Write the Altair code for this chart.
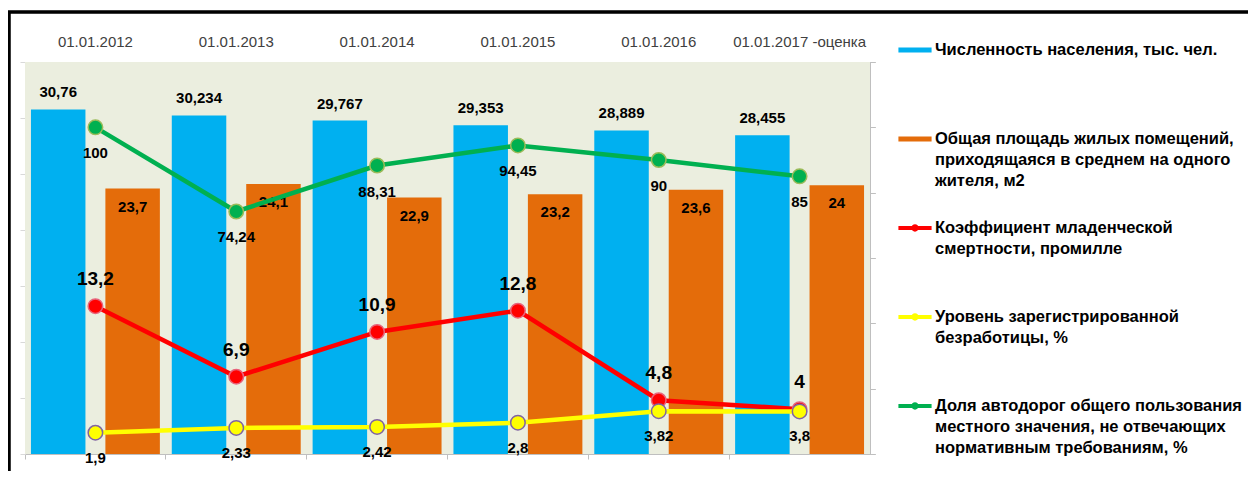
import altair as alt
import pandas as pd

# ---------------- data ----------------
categories = ["01.01.2012", "01.01.2013", "01.01.2014", "01.01.2015",
              "01.01.2016", "01.01.2017 -оценка"]
population = [30.76, 30.234, 29.767, 29.353, 28.889, 28.455]
housing = [23.7, 24.1, 22.9, 23.2, 23.6, 24]
infant_mortality = [13.2, 6.9, 10.9, 12.8, 4.8, 4]
unemployment = [1.9, 2.33, 2.42, 2.8, 3.82, 3.8]
bad_roads = [100, 74.24, 88.31, 94.45, 90, 85]

series_names = [
    "Численность населения, тыс. чел.",
    "Общая площадь жилых помещений,|приходящаяся в среднем на одного|жителя, м2",
    "Коэффициент младенческой|смертности, промилле",
    "Уровень зарегистрированной|безработицы, %",
    "Доля автодорог общего пользования|местного значения, не отвечающих|нормативным требованиям, %",
]
series_colors = ["#00B0F0", "#E46C0A", "#FF0000", "#FFFF00", "#00B050"]
outline_colors = {"red": "#E8637A", "yellow": "#8064A2", "green": "#9BBB59"}
PLOT_BG = "#EBEEDF"

left_ticks = [0, 5, 10, 15, 20, 25, 30, 35]
right_ticks = [0, 20, 40, 60, 80, 100, 120]

RECT = "M-1,-0.15H1V0.15H-1Z"
LINEDOT = ("M-1,-0.12H1V0.12H-1Z "
           "M0.22,0A0.22,0.22,0,1,1,-0.22,0A0.22,0.22,0,1,1,0.22,0Z")
legend_shapes = [RECT, RECT, LINEDOT, LINEDOT, LINEDOT]


def fmt(v):
    return f"{v:g}".replace(".", ",")


bars_df = pd.DataFrame(
    [{"cat": c, "series": series_names[0], "value": v, "label": fmt(v)}
     for c, v in zip(categories, population)] +
    [{"cat": c, "series": series_names[1], "value": v, "label": fmt(v)}
     for c, v in zip(categories, housing)]
)
legend_df = pd.DataFrame({"series": series_names})


def line_df(values):
    return pd.DataFrame({"cat": categories, "value": values,
                         "label": [fmt(v) for v in values]})


red_df = line_df(infant_mortality)
yellow_df = line_df(unemployment)
green_df = line_df(bad_roads)

FONT = "Liberation Sans"
W, H = 845, 392

x_scale = alt.Scale(domain=categories, paddingInner=0, paddingOuter=0)
left_scale = alt.Scale(domain=[0, 35], nice=False, zero=True)
right_scale = alt.Scale(domain=[0, 120], nice=False, zero=True)
color_scale = alt.Scale(domain=series_names, range=series_colors)
shape_scale = alt.Scale(domain=series_names, range=legend_shapes)
xoff_scale = alt.Scale(domain=series_names[:2], paddingInner=0.268, paddingOuter=0.08)

top_axis = alt.Axis(orient="top", title=None, domain=False, ticks=False, tickSize=0,
                    labelPadding=13, labelFont=FONT, labelFontSize=15,
                    labelColor="#404040", labelAngle=0)
bottom_axis = alt.Axis(orient="bottom", title=None, labels=False, domainColor="#BFBFBF",
                       tickColor="#BFBFBF", tickSize=5, bandPosition=0)
left_axis = alt.Axis(orient="left", title=None, values=left_ticks, labels=False,
                     domain=False, tickColor="#D9D9D9", tickSize=5, grid=False)
right_axis = alt.Axis(orient="right", title=None, values=right_ticks, labels=False,
                      domain=True, domainColor="#BFBFBF", tickColor="#BFBFBF",
                      tickSize=5, grid=False)

# ---------------- legend (from scales only; first so its settings win) ----------------
legend_def = alt.Legend(
    title=None, orient="none", legendX=873, legendY=-29,
    labelExpr="split(datum.label, '|')", labelFont=FONT, labelFontWeight="bold",
    labelFontSize=16.5, labelColor="#000000", labelLimit=400,
    symbolSize=1100, symbolStrokeWidth=0, symbolOpacity=1, rowPadding=21,
    gridAlign="all", labelOffset=3,
)
legend_layer = alt.Chart(legend_df).mark_point(
    filled=True, opacity=0, size=1100
).encode(
    color=alt.Color("series:N", scale=color_scale, legend=legend_def),
    shape=alt.Shape("series:N", scale=shape_scale, legend=legend_def),
)

# ---------------- plot background (decoration) ----------------
plot_bg = alt.Chart(legend_df).mark_rect(color=PLOT_BG).encode(
    x=alt.value(0), x2=alt.value(W), y=alt.value(0), y2=alt.value(H)
)

# ---------------- bars ----------------
bars = alt.Chart(bars_df).mark_bar().encode(
    x=alt.X("cat:N", sort=categories, scale=x_scale, axis=top_axis),
    xOffset=alt.XOffset("series:N", scale=xoff_scale),
    y=alt.Y("value:Q", scale=left_scale, axis=left_axis),
    color=alt.Color("series:N", scale=color_scale, legend=None),
)

blue_text = alt.Chart(bars_df).transform_filter(
    alt.datum.series == series_names[0]
).mark_text(dy=-17, font=FONT, fontWeight="bold", fontSize=15, color="black").encode(
    x=alt.X("cat:N", sort=categories, scale=x_scale, axis=bottom_axis),
    xOffset=alt.XOffset("series:N", scale=xoff_scale),
    y=alt.Y("value:Q", scale=left_scale, axis=None),
    text="label:N",
)

orange_text = alt.Chart(bars_df).transform_filter(
    alt.datum.series == series_names[1]
).mark_text(dy=18, font=FONT, fontWeight="bold", fontSize=15, color="black").encode(
    x=alt.X("cat:N", sort=categories, scale=x_scale, axis=None),
    xOffset=alt.XOffset("series:N", scale=xoff_scale),
    y=alt.Y("value:Q", scale=left_scale, axis=None),
    text="label:N",
)


def line_layers(df, color, outline, scale, label_dy, label_size, axis=None):
    base = alt.Chart(df).encode(
        x=alt.X("cat:N", sort=categories, scale=x_scale, axis=None),
        y=alt.Y("value:Q", scale=scale, axis=axis),
    )
    line = base.mark_line(color=color, strokeWidth=4.5)
    pts = base.mark_point(shape="circle", filled=True, fill=color, stroke=outline,
                          strokeWidth=1.5, size=210, opacity=1)
    txt = base.mark_text(dy=label_dy, font=FONT, fontWeight="bold",
                         fontSize=label_size, color="black").encode(text="label:N")
    return [line, pts, txt]


red_layers = line_layers(red_df, "#FF0000", outline_colors["red"], left_scale, -27, 19)
yellow_layers = line_layers(yellow_df, "#FFFF00", outline_colors["yellow"], left_scale, 25, 15)
green_layers = line_layers(green_df, "#00B050", outline_colors["green"], right_scale, 26, 15,
                           axis=right_axis)

# ---------------- frame lines (decoration) ----------------
frame_top = alt.Chart(legend_df).mark_rule(color="black", strokeWidth=2.5).encode(
    x=alt.value(-17), x2=alt.value(1300), y=alt.value(-50)
)
frame_left = alt.Chart(legend_df).mark_rule(color="black", strokeWidth=2.5).encode(
    x=alt.value(-16), y=alt.value(-51), y2=alt.value(430)
)

chart = alt.layer(
    legend_layer, plot_bg, bars, orange_text, blue_text,
    *red_layers, *yellow_layers, *green_layers,
    frame_top, frame_left,
).resolve_scale(
    y="independent"
).resolve_axis(
    x="independent"
).properties(
    width=W, height=H,
    autosize=alt.AutoSizeParams(type="none"),
    padding={"left": 17, "top": 54, "right": 378, "bottom": 17},
    background="white",
).configure(
    style={"guide-label": {"lineHeight": 21}}
).configure_view(
    stroke=None
)

chart.save("out.html", embed_options={"renderer": "svg", "actions": False})
